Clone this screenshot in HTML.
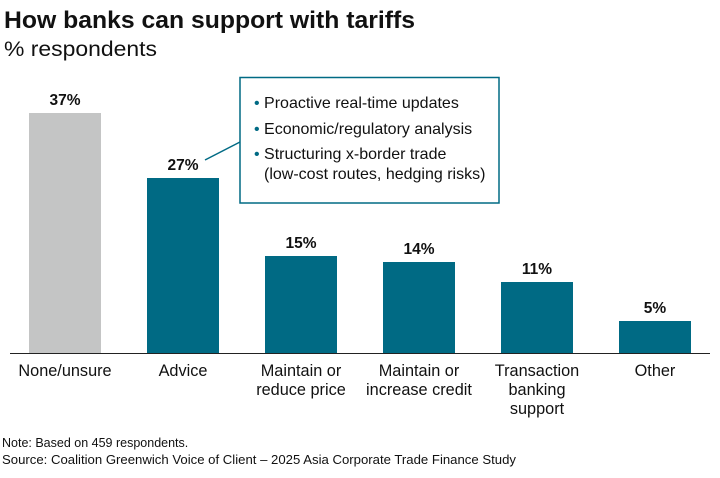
<!DOCTYPE html>
<html><head><style>
body{margin:0;width:720px;height:473px;background:#fff;font-family:"Liberation Sans",sans-serif;color:#111;overflow:hidden}
</style></head><body>
<svg width="720" height="473" xmlns="http://www.w3.org/2000/svg" font-family="Liberation Sans, sans-serif">
<text x="4" y="28" font-size="24.5" font-weight="bold" fill="#111" textLength="411" lengthAdjust="spacingAndGlyphs">How banks can support with tariffs</text>
<text x="4" y="56" font-size="21.5" fill="#111" textLength="153" lengthAdjust="spacingAndGlyphs">% respondents</text>
<g fill="#006a84">
<rect x="29" y="113" width="72" height="240" fill="#c4c5c5"/>
<rect x="147" y="178" width="72" height="175"/>
<rect x="265" y="256" width="72" height="97"/>
<rect x="383" y="262" width="72" height="91"/>
<rect x="501" y="282" width="72" height="71"/>
<rect x="619" y="321" width="72" height="32"/>
</g>
<line x1="10" y1="353.5" x2="710" y2="353.5" stroke="#222" stroke-width="1"/>
<g font-size="15.5" font-weight="bold" text-anchor="middle" fill="#111">
<text x="65" y="105">37%</text><text x="183" y="170">27%</text><text x="301" y="248">15%</text>
<text x="419" y="254">14%</text><text x="537" y="274">11%</text><text x="655" y="313">5%</text>
</g>
<g font-size="16.3" text-anchor="middle" fill="#111">
<text x="65" y="376">None/unsure</text><text x="183" y="376">Advice</text>
<text x="301" y="376">Maintain or</text><text x="301" y="395">reduce price</text>
<text x="419" y="376">Maintain or</text><text x="419" y="395">increase credit</text>
<text x="537" y="376">Transaction</text><text x="537" y="395">banking</text><text x="537" y="414">support</text>
<text x="655" y="376">Other</text>
</g>
<line x1="205" y1="160" x2="240" y2="142" stroke="#006a84" stroke-width="1.5"/>
<rect x="240" y="77.5" width="259" height="125.5" fill="#fff" stroke="#006a84" stroke-width="1.5"/>
<g font-size="16" fill="#111">
<text x="254" y="108"><tspan fill="#006a84">•</tspan> Proactive real-time updates</text>
<text x="254" y="134"><tspan fill="#006a84">•</tspan> Economic/regulatory analysis</text>
<text x="254" y="159"><tspan fill="#006a84">•</tspan> Structuring x-border trade</text>
<text x="264" y="179">(low-cost routes, hedging risks)</text>
</g>
<g font-size="12.5" fill="#111">
<text x="2" y="447">Note: Based on 459 respondents.</text>
<text x="2" y="464" textLength="514" lengthAdjust="spacingAndGlyphs">Source: Coalition Greenwich Voice of Client – 2025 Asia Corporate Trade Finance Study</text>
</g>
</svg>
</body></html>
